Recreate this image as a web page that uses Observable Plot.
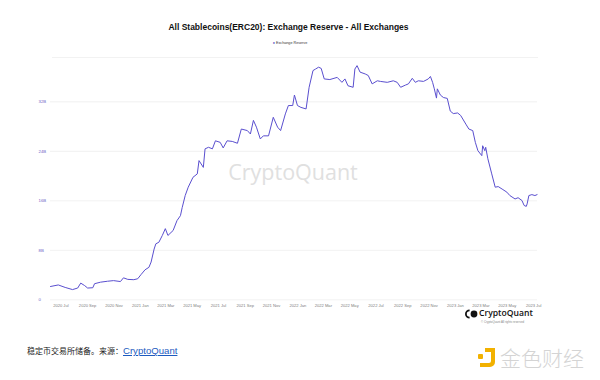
<!DOCTYPE html>
<html><head><meta charset="utf-8">
<script src="https://cdn.jsdelivr.net/npm/d3@7"></script>
<script src="https://cdn.jsdelivr.net/npm/@observablehq/plot@0.6"></script>
<style>
body{margin:0;background:#fff;}
#wrap{position:relative;width:600px;height:380px;overflow:hidden;background:#fff;font-family:"Liberation Sans",Arial,sans-serif;}
.abs{position:absolute;white-space:nowrap;line-height:1;}
#chart{position:absolute;left:0;top:50px;}
</style></head><body>
<div id="wrap">
  <div class="abs" style="left:0;width:577px;text-align:center;top:23px;font-size:8.5px;font-weight:bold;color:#111;">All Stablecoins(ERC20): Exchange Reserve - All Exchanges</div>
  <div class="abs" style="left:190px;width:200px;text-align:center;top:42px;font-size:3.7px;color:#333;"><span style="color:#4a3fc0">●</span> Exchange Reserve</div>
  <div class="abs" style="left:52px;top:57px;width:486px;height:0.6px;background:#f2f2f2;"></div>
  <div class="abs" style="left:193px;width:200px;text-align:center;top:161px;font-family:'Open Sans',sans-serif;font-size:21.5px;color:#e0e0e0;">CryptoQuant</div>
  <div id="chart"></div>
  <svg class="abs" style="left:465px;top:308px;" width="14" height="12" viewBox="0 0 14 12">
    <path d="M4.6 1.4 A4.6 4.6 0 0 0 4.6 10.6 L4.6 8.8 A2.8 2.8 0 0 1 4.6 3.2 Z" fill="#111"/>
    <circle cx="9" cy="6" r="3.4" fill="#111"/>
  </svg>
  <div class="abs" style="left:479px;top:309px;font-family:'Open Sans',sans-serif;font-size:8.6px;font-weight:600;color:#111;">CryptoQuant</div>
  <div class="abs" style="left:481px;top:321px;font-size:2.9px;color:#888;">© CryptoQuant All rights reserved</div>
  <div class="abs" style="left:27px;top:341px;color:#222;"><span style="font-family:'Noto Sans CJK SC',sans-serif;font-size:8px;">稳定币交易所储备。来源：</span><span style="font-family:'Liberation Sans',Arial,sans-serif;font-size:9.6px;color:#1d5bbf;text-decoration:underline;">CryptoQuant</span></div>
  <svg class="abs" style="left:477px;top:347px;" width="21" height="21" viewBox="0 0 21 21">
    <rect x="1" y="7" width="5" height="5" rx="1" fill="#f2b100"/>
    <path d="M8 1 H18 V15 A5 5 0 0 1 13 20 H3 V16 H12 A2 2 0 0 0 14 14 V5 H8 Z" fill="#f2b100"/>
  </svg>
  <div class="abs" style="left:500px;top:347px;font-family:'Noto Sans CJK SC',sans-serif;font-size:21px;font-weight:300;color:#d4d4d4;">金色财经</div>
</div>
<script>
const dates = ["2020-06-07","2020-06-25","2020-07-11","2020-07-28","2020-08-09","2020-08-16","2020-08-25","2020-09-01","2020-09-13","2020-09-17","2020-10-01","2020-10-17","2020-10-31","2020-11-16","2020-11-23","2020-12-03","2020-12-17","2020-12-26",
"2021-01-03","2021-01-12","2021-01-21","2021-01-26","2021-02-02","2021-02-06","2021-02-13","2021-02-21","2021-02-28","2021-03-06","2021-03-18","2021-03-27","2021-04-04","2021-04-08","2021-04-15","2021-04-22","2021-05-03","2021-05-13","2021-05-17","2021-05-27","2021-05-31","2021-06-08","2021-06-17","2021-06-24","2021-07-05","2021-07-12","2021-07-21","2021-08-02","2021-08-14","2021-08-23","2021-09-06","2021-09-13","2021-09-20","2021-09-27","2021-10-06","2021-10-13","2021-10-25","2021-11-05","2021-11-15","2021-11-22","2021-12-03","2021-12-10","2021-12-20","2021-12-24","2021-12-31",
"2022-01-08","2022-01-20","2022-01-27","2022-02-05","2022-02-11","2022-02-18","2022-02-24","2022-03-03","2022-03-16","2022-04-02","2022-04-13","2022-04-20","2022-04-27","2022-05-09","2022-05-13","2022-05-18","2022-05-25","2022-06-06","2022-06-13","2022-06-22","2022-07-04","2022-07-11","2022-07-27","2022-08-10","2022-08-19","2022-08-27","2022-09-07","2022-09-14","2022-09-23","2022-09-30","2022-10-07","2022-10-19","2022-10-30","2022-11-04","2022-11-09","2022-11-13","2022-11-18","2022-11-20","2022-11-27","2022-12-04","2022-12-13","2022-12-20","2022-12-27",
"2023-01-06","2023-01-13","2023-01-25","2023-02-01","2023-02-10","2023-02-16","2023-02-22","2023-03-03","2023-03-05","2023-03-10","2023-03-12","2023-03-17","2023-03-26","2023-04-03","2023-04-10","2023-04-19","2023-04-30","2023-05-07","2023-05-19","2023-05-26","2023-06-04","2023-06-09","2023-06-14","2023-06-16","2023-06-20","2023-06-27","2023-07-04","2023-07-09"];
// Exchange reserve, billions USD
const reserve = [2.15,2.4,2.0,1.65,1.9,2.7,2.3,1.9,1.95,2.6,2.85,3.0,3.1,2.95,3.55,3.3,3.25,3.4,
4.1,4.85,5.25,6.1,8.2,9.05,9.3,10.4,11.5,10.4,11.2,12.8,13.6,14.9,16.85,18.2,19.8,20.35,22.5,21.4,24.4,24.65,24.4,25.7,25.45,24.55,25.7,25.6,25.3,27.6,27.35,26.8,29.0,27.9,26.0,26.5,26.5,29.5,27.9,27.35,30.05,31.4,31.4,33.1,31.4,
31.1,30.85,34.35,37.05,37.3,37.6,37.4,35.7,35.6,35.95,35.15,35.7,34.6,34.35,37.3,37.85,36.8,36.5,36.25,34.9,35.4,35.3,35.15,35.4,35.15,34.35,34.7,34.9,35.8,35.15,35.4,35.3,35.7,36.1,35.15,34.1,32.6,34.1,33.1,32.7,32.55,30.5,30.1,
30.2,29.8,28.4,27.6,27.35,25.45,24.1,23.3,24.9,24.1,24.65,22.8,20.35,18.2,18.3,17.9,17.4,16.85,16.3,16.5,16.05,15.25,15.1,15.5,16.85,17.0,16.85,17.0];
const yTicks = [0, 8, 16, 24, 32];
const xTickDates = ["2020-07-01","2020-09-01","2020-11-01","2021-01-01","2021-03-01","2021-05-01","2021-07-01","2021-09-01","2021-11-01","2022-01-01","2022-03-01","2022-05-01","2022-07-01","2022-09-01","2022-11-01","2023-01-01","2023-03-01","2023-05-01","2023-07-01"];

const data = dates.map((d, i) => ({date: new Date(d), value: reserve[i]}));
const chart = Plot.plot({
  width: 600, height: 265,
  marginLeft: 50, marginRight: 63, marginTop: 14.2, marginBottom: 15.7,
  style: {fontFamily: "Liberation Sans, Arial, sans-serif", fontSize: "4.3px", background: "transparent", overflow: "visible"},
  x: {type: "utc", domain: [new Date("2020-06-07"), new Date("2023-07-10")]},
  y: {domain: [0, 38]},
  marks: [
    Plot.gridY(yTicks, {stroke: "#e8e8e8", strokeOpacity: 1, strokeWidth: 0.6}),
    Plot.axisY(yTicks, {tickSize: 0, tickPadding: 12, textAnchor: "start", fontSize: 4.3, color: "#6c63c8", label: null, tickFormat: d => d === 0 ? "0" : d + "B"}),
    Plot.axisX(xTickDates.map(d => new Date(d)), {tickSize: 0, tickPadding: 4, fontSize: 4.1, color: "#808080", label: null, tickFormat: d3.utcFormat("%Y %b")}),
    Plot.lineY(data, {x: "date", y: "value", stroke: "#5a4fcf", strokeWidth: 1})
  ]
});
document.getElementById("chart").appendChild(chart);
</script>
</body></html>
